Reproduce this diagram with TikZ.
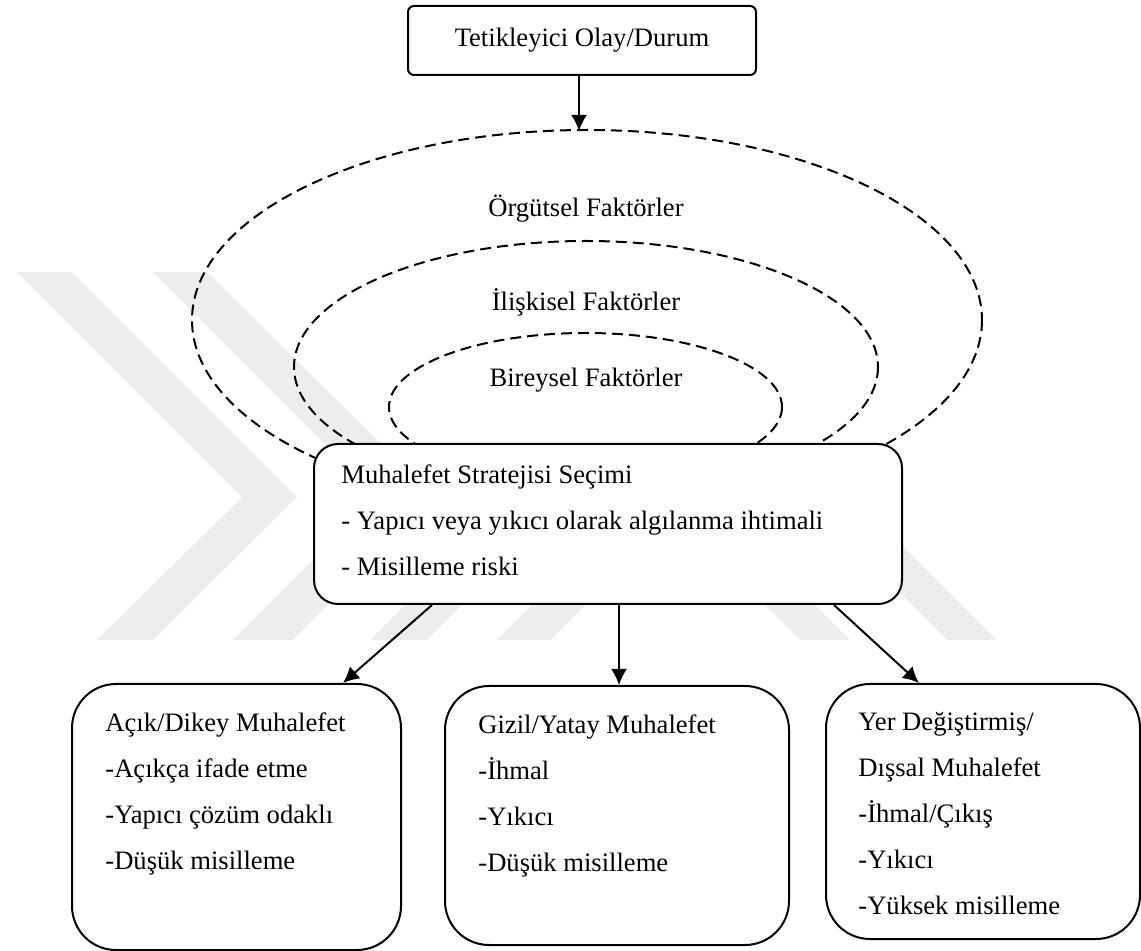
\documentclass[tikz,border=0pt]{standalone}
\usepackage{fontspec}
\setmainfont{Liberation Serif}
\usetikzlibrary{arrows.meta}

\tikzset{
  wmark/.style={fill=black!7},
  box/.style={draw, line width=1pt, fill=white, inner sep=0pt},
  txt/.style={font=\fontsize{13.3}{23}\selectfont, align=left, inner sep=0pt},
  dashline/.style={line width=1pt, dash pattern=on 5.5pt off 3pt},
  arr/.style={line width=1pt, -{Latex[length=8pt,width=8pt]}}
}

\begin{document}
\begin{tikzpicture}[x=0.5pt,y=-0.5pt]
  \useasboundingbox (0,0) rectangle (1141,951);

  \fill[wmark] (17,272) -- (72,272) -- (297,497) -- (153,640) -- (97,640) -- (242,497) -- cycle;
  \fill[wmark] (153,272) -- (207,272) -- (434,496) -- (293,640) -- (233,640) -- (377,496) -- cycle;
  \fill[wmark] (370,640) -- (427,640) -- (567,500) -- (510,500) -- cycle;
  \fill[wmark] (497,640) -- (550,640) -- (690,500) -- (637,500) -- cycle;
  \fill[wmark] (800,640) -- (850,640) -- (710,500) -- (660,500) -- cycle;
  \fill[wmark] (947,640) -- (997,640) -- (857,500) -- (807,500) -- cycle;

  \coordinate (orgc) at (587,320);
  \coordinate (ilic) at (586,367);
  \coordinate (birc) at (585.5,407);
  \draw[dashline] (orgc) ellipse [x radius=395, y radius=190];
  \draw[dashline] (ilic) ellipse [x radius=292, y radius=126];
  \draw[dashline] (birc) ellipse [x radius=196.5, y radius=74];

  \node[txt, anchor=base] (org) at (586,217) {Örgütsel Faktörler};
  \node[txt, anchor=base] (iliski) at (586,311) {İlişkisel Faktörler};
  \node[txt, anchor=base] (birey) at (586,387) {Bireysel Faktörler};

  \node[box, rounded corners=3pt, minimum width=174pt, minimum height=34.5pt, font=\fontsize{13.3}{23}\selectfont]
    (trig) at (582,40.5) {Tetikleyici Olay/Durum};
  \node[box, rounded corners=12pt, minimum width=294pt, minimum height=80pt] (muh) at (608,524) {};
  \node[box, rounded corners=22pt, minimum width=164.5pt, minimum height=133pt] (acik) at (236.5,817) {};
  \node[box, rounded corners=22pt, minimum width=172pt, minimum height=129.5pt] (gizil) at (617,815.5) {};
  \node[box, rounded corners=22pt, minimum width=157pt, minimum height=127.5pt] (yer) at (983,811.5) {};

  % base = last line
  \node[txt, anchor=base west] (muh-txt) at (341,576)
    {Muhalefet Stratejisi Seçimi\\- Yapıcı veya yıkıcı olarak algılanma ihtimali\\- Misilleme riski};
  \node[txt, anchor=base west] (acik-txt) at (105,869)
    {Açık/Dikey Muhalefet\\-Açıkça ifade etme\\-Yapıcı çözüm odaklı\\-Düşük misilleme};
  \node[txt, anchor=base west] (gizil-txt) at (478,871)
    {Gizil/Yatay Muhalefet\\-İhmal\\-Yıkıcı\\-Düşük misilleme};
  \node[txt, anchor=base west] (yer-txt) at (858,914)
    {Yer Değiştirmiş/\\Dışsal Muhalefet\\-İhmal/Çıkış\\-Yıkıcı\\-Yüksek misilleme};

  \coordinate (orgtop) at (579,131);
  \coordinate (midline) at (619,640);
  \draw[arr] (trig.south -| orgtop) -- (orgtop);
  \draw[arr] ([xshift=59.5pt]muh.south west) -- ([xshift=-29.5pt]acik.north east);
  \draw[arr] (muh.south -| midline) -- (gizil.north -| midline);
  \draw[arr] ([xshift=-34.5pt]muh.south east) -- ([xshift=47pt]yer.north west);
\end{tikzpicture}
\end{document}
